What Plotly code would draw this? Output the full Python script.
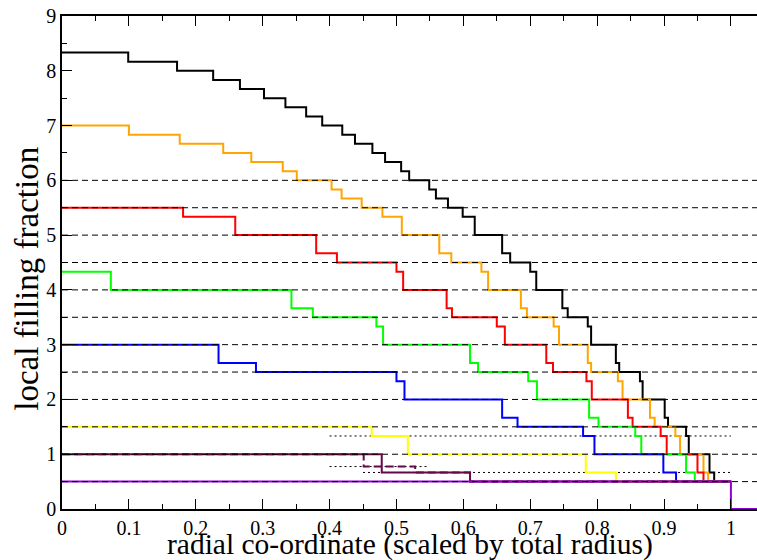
import plotly.graph_objects as go

# Step profiles: breakpoints along the radius and the filling level held from each one
black_x = [0, 0.099, 0.172, 0.226, 0.266, 0.302, 0.334, 0.365, 0.389, 0.419, 0.438, 0.464, 0.483,
           0.507, 0.519, 0.549, 0.559, 0.577, 0.599, 0.617, 0.658, 0.670, 0.700, 0.709, 0.748,
           0.756, 0.786, 0.791, 0.828, 0.833, 0.864, 0.868, 0.901, 0.906, 0.933, 0.937, 0.968,
           0.975, 1.0]
black_y = [8.333, 8.167, 8.0, 7.833, 7.667, 7.5, 7.333, 7.167, 7.0, 6.833, 6.667, 6.5, 6.333,
           6.167, 6.0, 5.833, 5.667, 5.5, 5.333, 5.0, 4.667, 4.5, 4.333, 4.0,
           3.667, 3.5, 3.333, 3.0, 2.667, 2.5, 2.333, 2.0, 1.667, 1.5, 1.333, 1.0,
           0.667, 0.5, 0.5]

orange_x = [0, 0.100, 0.176, 0.241, 0.283, 0.330, 0.351, 0.403, 0.418, 0.448, 0.479, 0.508,
            0.564, 0.582, 0.627, 0.637, 0.686, 0.695, 0.735, 0.743, 0.786, 0.791, 0.831,
            0.838, 0.879, 0.886, 0.917, 0.924, 0.959, 0.966, 1.0]
orange_y = [7.0, 6.833, 6.667, 6.5, 6.333, 6.167, 6.0, 5.833, 5.667, 5.5, 5.333, 5.0,
            4.667, 4.5, 4.333, 4.0, 3.667, 3.5, 3.333, 3.0, 2.667, 2.5, 2.333,
            2.0, 1.667, 1.5, 1.333, 1.0, 0.667, 0.5, 0.5]

red_x = [0, 0.181, 0.259, 0.380, 0.411, 0.500, 0.510, 0.575, 0.583, 0.650, 0.662, 0.724,
         0.734, 0.784, 0.792, 0.846, 0.853, 0.895, 0.904, 0.950, 0.959, 1.0]
red_y = [5.5, 5.333, 5.0, 4.667, 4.5, 4.333, 4.0, 3.667, 3.5, 3.333, 3.0, 2.667,
         2.5, 2.333, 2.0, 1.667, 1.5, 1.333, 1.0, 0.667, 0.5, 0.5]

green_x = [0, 0.073, 0.343, 0.375, 0.470, 0.480, 0.610, 0.622, 0.697, 0.710, 0.788, 0.802,
           0.857, 0.866, 0.933, 0.946, 1.0]
green_y = [4.333, 4.0, 3.667, 3.5, 3.333, 3.0, 2.667, 2.5, 2.333, 2.0, 1.667, 1.5,
           1.333, 1.0, 0.667, 0.5, 0.5]

blue_x = [0, 0.234, 0.290, 0.500, 0.512, 0.658, 0.681, 0.779, 0.796, 0.899, 0.918, 1.0]
blue_y = [3.0, 2.667, 2.5, 2.333, 2.0, 1.667, 1.5, 1.333, 1.0, 0.667, 0.5, 0.5]

yellow_x = [0, 0.463, 0.517, 0.783, 0.828, 1.0]
yellow_y = [1.5, 1.333, 1.0, 0.667, 0.5, 0.5]

maroon_x = [0, 0.478, 0.610, 1.0]
maroon_y = [1.0, 0.667, 0.5, 0.5]

maroon_dash_x = [0, 0.451, 0.528, 0.610, 1.0]
maroon_dash_y = [1.0, 0.775, 0.667, 0.5, 0.5]

violet_x = [0, 1.0, 1.039]
violet_y = [0.5, 0.0, 0.0]

# Reference plateaus
dashed_levels = [0.5, 1.0, 1.5, 2.0, 2.5, 3.0, 3.5, 4.0, 4.5, 5.0, 5.5, 6.0]
dotted_levels = [1.333, 0.775, 0.667]
dotted_start = [0.40, 0.40, 0.45]
dotted_end = [1.0, 0.547, 1.0]

x_ticks = [0, 0.1, 0.2, 0.3, 0.4, 0.5, 0.6, 0.7, 0.8, 0.9, 1]
x_tick_text = ["0", "0.1", "0.2", "0.3", "0.4", "0.5", "0.6", "0.7", "0.8", "0.9", "1"]
y_ticks = [0, 1, 2, 3, 4, 5, 6, 7, 8, 9]

series = [
    (black_x, black_y, "#000000", "solid"),
    (orange_x, orange_y, "#FFA500", "solid"),
    (red_x, red_y, "#FF0000", "solid"),
    (green_x, green_y, "#00FF00", "solid"),
    (blue_x, blue_y, "#0000FF", "solid"),
    (yellow_x, yellow_y, "#FFFF00", "solid"),
    (maroon_dash_x, maroon_dash_y, "#670748", "8px,4px"),
    (maroon_x, maroon_y, "#670748", "solid"),
    (violet_x, violet_y, "#9400D3", "solid"),
]

fig = go.Figure()

for lvl, x0, x1 in zip(dotted_levels, dotted_start, dotted_end):
    fig.add_trace(go.Scatter(x=[x0, x1], y=[lvl, lvl], mode="lines",
                             line=dict(color="#000000", width=1, dash="2px,3px"),
                             hoverinfo="skip"))

for xs, ys, col, dash in series:
    fig.add_trace(go.Scatter(x=xs, y=ys, mode="lines", line_shape="hv",
                             line=dict(color=col, width=2, dash=dash)))

for lvl in dashed_levels:
    fig.add_trace(go.Scatter(x=[0, 1.039], y=[lvl, lvl], mode="lines",
                             line=dict(color="#000000", width=1, dash="6px,4px"),
                             hoverinfo="skip"))

serif = "Liberation Serif"
tick_font = dict(size=20, family=serif, color="#000000")

fig.update_layout(
    width=757, height=560,
    margin=dict(l=62, r=0, t=16, b=51),
    paper_bgcolor="white", plot_bgcolor="white",
    showlegend=False,
    font=dict(family=serif, color="#000000"),
    xaxis=dict(
        range=[0, 1.039], showgrid=False, zeroline=False,
        showline=True, linecolor="#000000", linewidth=1.5, mirror="ticks",
        ticks="inside", ticklen=10, tickwidth=1, tickcolor="#000000",
        tickvals=x_ticks, ticktext=x_tick_text, tickfont=tick_font,
        minor=dict(ticks="inside", ticklen=5, dtick=0.05, tick0=0, tickcolor="#000000"),
    ),
    yaxis=dict(
        range=[0, 9], showgrid=False, zeroline=False,
        showline=True, linecolor="#000000", linewidth=1.5, mirror=False,
        ticks="inside", ticklen=10, tickwidth=1, tickcolor="#000000",
        tickvals=y_ticks, tickfont=tick_font,
        minor=dict(ticks="inside", ticklen=5, dtick=0.5, tick0=0, tickcolor="#000000"),
    ),
    annotations=[
        dict(text="radial co-ordinate (scaled by total radius)", xref="paper", yref="paper",
             x=0.5, y=0, yshift=-54, xanchor="center", yanchor="bottom", showarrow=False,
             font=dict(size=29.5, family=serif)),
        dict(text="local filling fraction", xref="paper", yref="paper",
             x=0, y=0.467, xshift=-35, xanchor="center", yanchor="middle", textangle=-90,
             showarrow=False, font=dict(size=33, family=serif)),
    ],
)

fig.write_html("out.html")
